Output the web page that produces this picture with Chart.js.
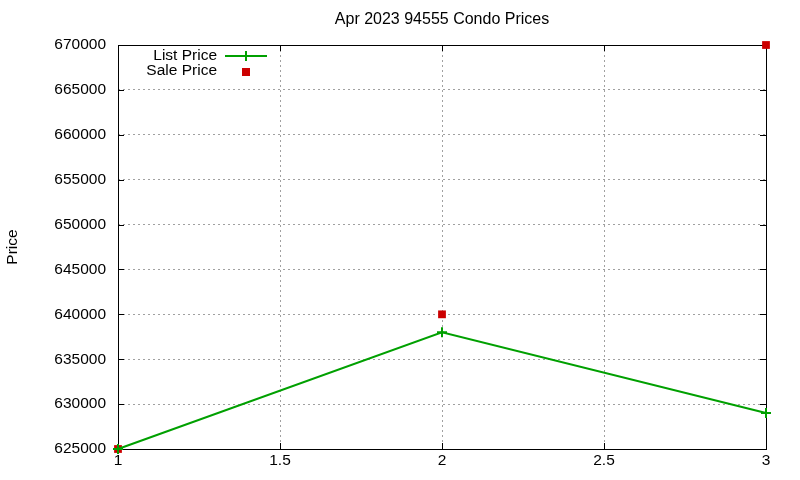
<!DOCTYPE html>
<html>
<head>
<meta charset="utf-8">
<script src="https://cdn.jsdelivr.net/npm/chart.js@4/dist/chart.umd.min.js"></script>
<style>
  html, body { margin: 0; padding: 0; background: #fff; }
  #wrap { width: 800px; height: 480px; }
</style>
</head>
<body>
<div id="wrap"><canvas id="chart#0" width="800" height="480"></canvas></div>
<script>
const chartTitle = 'Apr 2023 94555 Condo Prices'
const yTitle = 'Price'
const xValues = [1, 2, 3]
const listPrice = [625000, 638000, 629000]
const salePrice = [625000, 640000, 670000]
const seriesNames = ['List Price', 'Sale Price']

const FONT = 'Liberation Sans, Arial, sans-serif'
const green = '#00a000'
const red = '#cc0000'

function toPoints(ys) {
    return xValues.map((x, i) => ({ x: x, y: ys[i] }))
}

// frame + inward ticks, like gnuplot's border
const framePlugin = {
    id: 'frame',
    beforeDatasetsDraw(chart) {
        const { ctx, chartArea: a, scales } = chart
        ctx.save()
        ctx.strokeStyle = '#000'
        ctx.lineWidth = 1
        ctx.beginPath()
        scales.x.ticks.forEach(t => {
            const px = Math.round(scales.x.getPixelForValue(t.value)) + 0.5
            ctx.moveTo(px, a.bottom); ctx.lineTo(px, a.bottom - 6)
            ctx.moveTo(px, a.top); ctx.lineTo(px, a.top + 6)
        })
        scales.y.ticks.forEach(t => {
            const py = Math.round(scales.y.getPixelForValue(t.value)) + 0.5
            ctx.moveTo(a.left, py); ctx.lineTo(a.left + 6, py)
            ctx.moveTo(a.right, py); ctx.lineTo(a.right - 6, py)
        })
        ctx.stroke()
        ctx.strokeRect(Math.round(a.left) + 0.5, Math.round(a.top) + 0.5,
            Math.round(a.right - a.left), Math.round(a.bottom - a.top))
        ctx.restore()
    }
}

// title centred on the plot area + gnuplot-style key
const keyPlugin = {
    id: 'key',
    afterDraw(chart) {
        const ctx = chart.ctx
        const a = chart.chartArea
        ctx.save()
        ctx.fillStyle = '#000'
        ctx.textBaseline = 'middle'
        ctx.font = '16px ' + FONT
        ctx.textAlign = 'center'
        ctx.fillText(chartTitle, (a.left + a.right) / 2, 20)

        ctx.font = '15.5px ' + FONT
        ctx.textAlign = 'right'
        ctx.fillText(seriesNames[0], 217, 56)
        ctx.fillText(seriesNames[1], 217, 71)
        ctx.strokeStyle = green
        ctx.lineWidth = 2
        ctx.beginPath()
        ctx.moveTo(225, 56); ctx.lineTo(267, 56)
        ctx.moveTo(246, 51); ctx.lineTo(246, 61)
        ctx.stroke()
        ctx.fillStyle = red
        ctx.fillRect(242, 68, 8, 8)
        ctx.restore()
    }
}

const ctx = document.getElementById('chart#0')
const chart = new Chart(ctx, {
    type: 'scatter',
    data: {
        datasets: [{
            label: seriesNames[0],
            data: toPoints(listPrice),
            showLine: true,
            borderColor: green,
            backgroundColor: green,
            borderWidth: 2,
            pointStyle: 'cross',
            pointRadius: 5,
            pointBorderWidth: 2,
            clip: false
        }, {
            label: seriesNames[1],
            data: toPoints(salePrice),
            showLine: false,
            borderColor: red,
            backgroundColor: red,
            pointStyle: 'rect',
            pointRadius: 5.5,
            pointBorderWidth: 0,
            clip: false
        }]
    },
    options: {
        responsive: false,
        animation: false,
        layout: { padding: { left: 0, right: 34, top: 45, bottom: 0 } },
        plugins: {
            legend: { display: false },
            tooltip: { enabled: false },
            title: { display: false }
        },
        scales: {
            x: {
                type: 'linear',
                min: 1,
                max: 3,
                ticks: {
                    stepSize: 0.5,
                    color: '#000',
                    padding: 2,
                    font: { family: FONT, size: 15.5 },
                    maxRotation: 0,
                    callback: v => String(v)
                },
                grid: { color: '#a0a0a0', drawTicks: false, tickLength: 0 },
                border: { display: false, dash: [2, 3] },
                afterFit(scale) { scale.height = 31 }
            },
            y: {
                type: 'linear',
                min: 625000,
                max: 670000,
                ticks: {
                    stepSize: 5000,
                    color: '#000',
                    padding: 12,
                    font: { family: FONT, size: 15.5 },
                    callback: v => String(v)
                },
                title: {
                    display: true,
                    text: yTitle,
                    color: '#000',
                    font: { family: FONT, size: 15.5 },
                    padding: { top: 3, bottom: 0 }
                },
                grid: { color: '#a0a0a0', drawTicks: false, tickLength: 0 },
                border: { display: false, dash: [2, 3] },
                afterFit(scale) { scale.width = 118 }
            }
        }
    },
    plugins: [framePlugin, keyPlugin]
})
</script>
</body>
</html>
